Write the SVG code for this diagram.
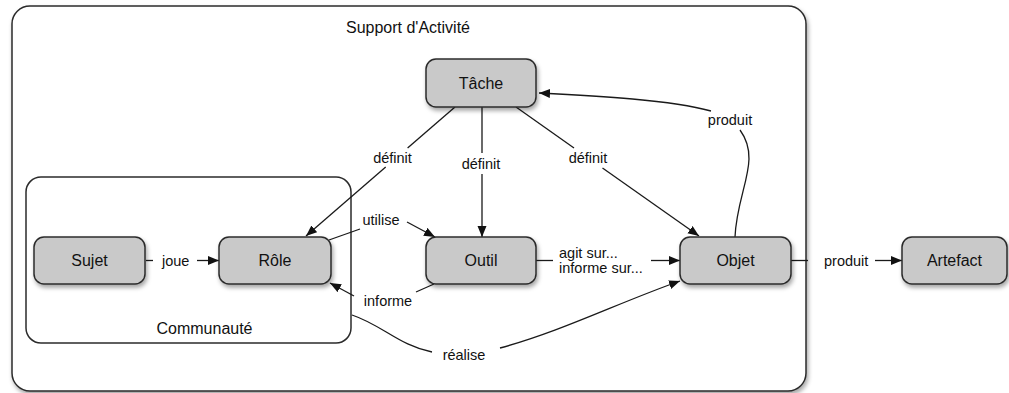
<svg xmlns="http://www.w3.org/2000/svg" width="1009" height="393" viewBox="0 0 1009 393">
<style>
.node rect{fill:#c9c9c9;stroke:#2b2b2b;stroke-width:1.5;filter:url(#sh)}
.node text{font-family:"Liberation Sans",Arial,sans-serif;font-size:16px;fill:#111;text-anchor:middle}
.lbl{font-family:"Liberation Sans",Arial,sans-serif;font-size:14.5px;fill:#111}
.c{text-anchor:middle}
.edges path{fill:none;stroke:#1a1a1a;stroke-width:1.3}
.arr{marker-end:url(#ah)}
.grp{fill:#fff;stroke:#2b2b2b;stroke-width:1.5}
.gt{font-family:"Liberation Sans",Arial,sans-serif;font-size:16px;fill:#111;text-anchor:middle}
</style>
<defs>
<filter id="sh" x="-20%" y="-20%" width="140%" height="150%">
<feDropShadow dx="1.5" dy="3" stdDeviation="2" flood-color="#000" flood-opacity="0.35"/>
</filter>
<marker id="ah" markerUnits="userSpaceOnUse" markerWidth="12" markerHeight="10" refX="11" refY="4.5" orient="auto">
<path d="M0,0 L11,4.5 L0,9 z" fill="#111"/>
</marker>
</defs>
<g id="support">
<rect class="grp" x="12" y="6" width="794" height="385" rx="18" filter="url(#sh)"/>
<text class="gt" x="408" y="33">Support d'Activité</text>
</g>
<g id="communaute">
<rect class="grp" x="26" y="177" width="325" height="166" rx="15"/>
<text class="gt" x="204.5" y="334">Communauté</text>
</g>
<g class="edges" id="connectors">
<path d="M146,260.5 H153"/>
<path class="arr" d="M197,260.5 H219"/>
<path d="M455,107 L407.6,148"/>
<path class="arr" d="M385.7,167 L306,236"/>
<path d="M482,107 V153"/>
<path class="arr" d="M482,174 V237"/>
<path d="M516,107 L574,148"/>
<path class="arr" d="M602.5,168 L699,236"/>
<path d="M735,237 C737,190 762,160 740,130"/>
<path class="arr" d="M711,111 C670,100 600,96 539,93"/>
<path d="M329,240 L360,229"/>
<path class="arr" d="M407,222 L435,237"/>
<path d="M434,284 L416,292"/>
<path class="arr" d="M354,296 L330,283"/>
<path d="M536,260.5 H553"/>
<path class="arr" d="M651,260.5 H680"/>
<path d="M352,315 C382,325 400,346 432,352"/>
<path class="arr" d="M500,348 C560,332 620,302 680,281"/>
<path d="M791,260.5 H808"/>
<path class="arr" d="M875,260.5 H902"/>
<text class="lbl" x="162" y="266">joue</text>
<text class="lbl c" x="392.5" y="163">définit</text>
<text class="lbl c" x="481" y="169">définit</text>
<text class="lbl c" x="588" y="163">définit</text>
<text class="lbl c" x="730" y="125">produit</text>
<text class="lbl c" x="381" y="225">utilise</text>
<text class="lbl c" x="388" y="306">informe</text>
<text class="lbl" x="559" y="258">agit sur...</text>
<text class="lbl" x="559" y="273">informe sur...</text>
<text class="lbl c" x="464" y="360">réalise</text>
<text class="lbl" x="824" y="266">produit</text>
</g>
<g id="tache" class="node"><rect x="426" y="59" width="110" height="48" rx="10"/><text x="481" y="89">Tâche</text></g>
<g id="sujet" class="node"><rect x="34" y="237" width="111" height="47" rx="10"/><text x="89.5" y="266">Sujet</text></g>
<g id="role" class="node"><rect x="219" y="237" width="112" height="47" rx="10"/><text x="275" y="266">Rôle</text></g>
<g id="outil" class="node"><rect x="426" y="237" width="110" height="47" rx="10"/><text x="481" y="266">Outil</text></g>
<g id="objet" class="node"><rect x="680" y="237" width="111" height="47" rx="10"/><text x="735.5" y="266">Objet</text></g>
<g id="artefact" class="node"><rect x="902" y="237" width="105" height="47" rx="10"/><text x="954.5" y="266">Artefact</text></g>
</svg>
